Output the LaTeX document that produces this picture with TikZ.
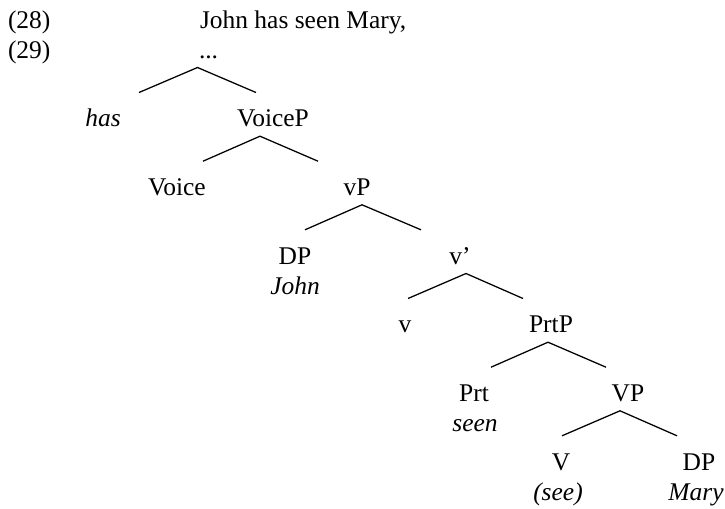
\documentclass[tikz,border=0pt]{standalone}
\usepackage{fontspec}
\setmainfont{Liberation Serif}
\usepackage{tikz}

\tikzset{
  word/.style={anchor=base, inner sep=0pt, outer sep=0pt},
  lword/.style={word, anchor=base west},
  gloss/.style={word, font=\fontsize{19.1}{22}\selectfont\itshape},
  branch/.style={draw, line width=0.95pt}
}

\begin{document}
\begin{tikzpicture}[x=0.75pt, y=-0.75pt, font=\fontsize{19.1}{22}\selectfont]
    \useasboundingbox (0,0) rectangle (725,508);

    \node[lword] (ex28) at (8,28.5) {(28)};
    \node[lword] (sentence) at (200,28.5) {John has seen Mary,};
    \node[lword] (ex29) at (8,58) {(29)};
    \node[lword] (root) at (199,58) {...};

    \node[gloss] (has) at (103,126.7) {has};
    \node[word] (VoiceP) at (273,126.7) {VoiceP};

    \node[word] (Voice) at (177,195.3) {Voice};
    \node[word] (vP) at (357,195.3) {vP};

    \node[word] (DP1) at (295,264) {DP};
    \node[gloss] (John) at (295,294) {John};
    \node[word] (vbar) at (460,264) {v’};

    \node[word] (v) at (405,332.7) {v};
    \node[word] (PrtP) at (551,332.7) {PrtP};

    \node[word] (Prt) at (474,401.3) {Prt};
    \node[gloss] (seen) at (475,431.3) {seen};
    \node[word] (VP) at (628,401.3) {VP};

    \node[word] (V) at (561,470) {V};
    \node[gloss] (see) at (558,500) {(see)};
    \node[word] (DP2) at (699,470) {DP};
    \node[gloss] (Mary) at (696,500) {Mary};

    % fork points and branch ends
    \coordinate (f-root) at (197.5,67.5);
    \coordinate (e-has) at (139,92.5);
    \coordinate (e-VoiceP) at (256,92.5);

    \coordinate (f-VoiceP) at (260,136.2);
    \coordinate (e-Voice) at (203,161.2);
    \coordinate (e-vP) at (318,161.2);

    \coordinate (f-vP) at (362,204.8);
    \coordinate (e-DP1) at (305,229.8);
    \coordinate (e-vbar) at (421,229.8);

    \coordinate (f-vbar) at (466,273.5);
    \coordinate (e-v) at (408,298.5);
    \coordinate (e-PrtP) at (523,298.5);

    \coordinate (f-PrtP) at (548,342.2);
    \coordinate (e-Prt) at (491,367.2);
    \coordinate (e-VP) at (606,367.2);

    \coordinate (f-VP) at (620,410.8);
    \coordinate (e-V) at (562,435.8);
    \coordinate (e-DP2) at (677,435.8);

    \path[branch] (e-has) -- (f-root) -- (e-VoiceP);
    \path[branch] (e-Voice) -- (f-VoiceP) -- (e-vP);
    \path[branch] (e-DP1) -- (f-vP) -- (e-vbar);
    \path[branch] (e-v) -- (f-vbar) -- (e-PrtP);
    \path[branch] (e-Prt) -- (f-PrtP) -- (e-VP);
    \path[branch] (e-V) -- (f-VP) -- (e-DP2);
\end{tikzpicture}
\end{document}
